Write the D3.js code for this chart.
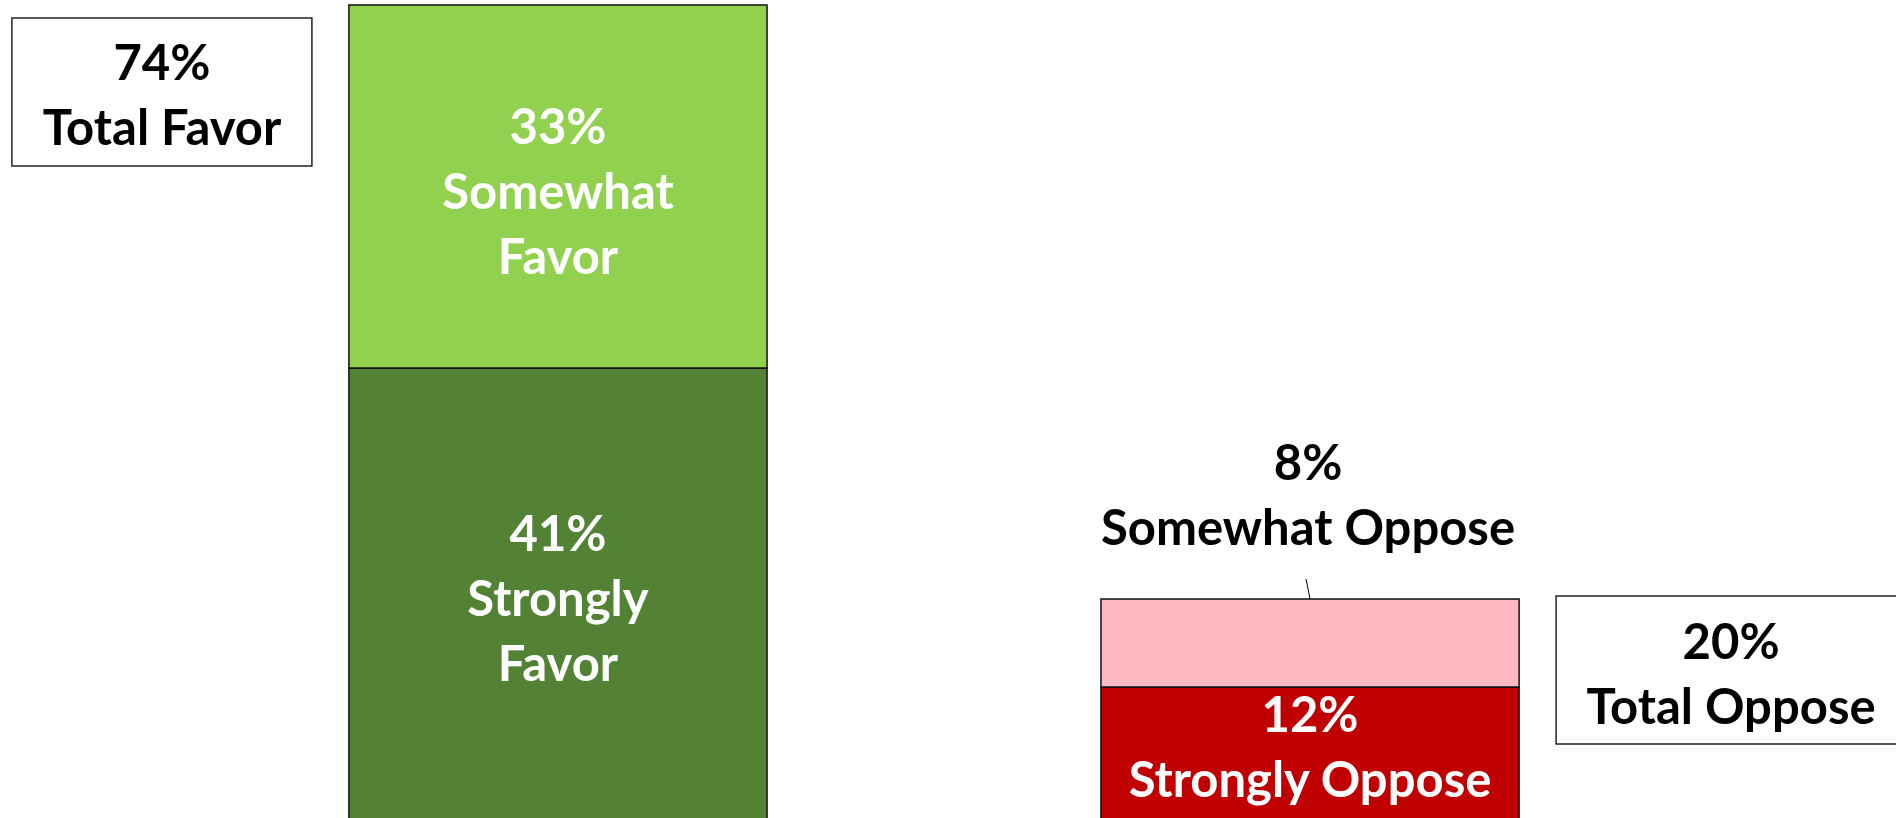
<!DOCTYPE html>
<head>
  <meta charset="utf-8">
  <script src="https://d3js.org/d3.v7.min.js"></script>
  <style>
    body { margin:0; background:#fff; overflow:hidden; }
    text { font-family: Lato, "Open Sans", sans-serif; font-weight: bold; }
  </style>
</head>
<body>
  <div class="chart"></div>
  <script>
    // data
    const categories = ['Favor', 'Oppose'];
    const strongly = [41, 12];
    const somewhat = [33, 8];
    const totals = [74, 20];
    const stronglyLines = [['Strongly', 'Favor'], ['Strongly Oppose']];
    const somewhatLines = [['Somewhat', 'Favor'], ['Somewhat Oppose']];
    const totalLines = [['Total Favor'], ['Total Oppose']];

    const width = 1896, height = 818;
    const fontSize = 49, lineH = 65;

    const svg = d3.select('.chart').append('svg')
      .attr('width', width)
      .attr('height', height);

    const x = d3.scaleBand()
      .domain(categories)
      .range([15, 1853])
      .paddingInner(0.444)
      .paddingOuter(0.444);

    const y = d3.scaleLinear()
      .domain([0, 74])
      .range([819, 5]);

    const rows = categories.map((c, i) => ({ cat: c, strongly: strongly[i], somewhat: somewhat[i] }));
    const series = d3.stack().keys(['strongly', 'somewhat'])(rows);
    const colors = {
      strongly: ['#548235', '#C00000'],
      somewhat: ['#92D050', '#FFB9C0']
    };

    svg.selectAll('g.layer')
      .data(series)
      .enter().append('g')
      .attr('class', 'layer')
      .selectAll('rect')
      .data(s => s.map((d, i) => ({ d, i, key: s.key })))
      .enter().append('rect')
      .attr('x', o => x(o.d.data.cat))
      .attr('width', x.bandwidth())
      .attr('y', o => y(o.d[1]))
      .attr('height', o => y(o.d[0]) - y(o.d[1]))
      .style('fill', o => colors[o.key][o.i])
      .style('stroke', '#111')
      .style('stroke-width', 1.5);

    function block(lines, cx, cy, color) {
      const n = lines.length;
      lines.forEach((t, k) => {
        svg.append('text')
          .attr('x', cx)
          .attr('y', cy + (k - (n - 1) / 2) * lineH)
          .attr('text-anchor', 'middle')
          .attr('dominant-baseline', 'central')
          .style('font-size', fontSize + 'px')
          .style('fill', color)
          .text(t);
      });
    }

    const cx = c => x(c) + x.bandwidth() / 2;

    // in-bar labels
    categories.forEach((c, i) => {
      const s0 = series[0][i];
      block([strongly[i] + '%'].concat(stronglyLines[i]), cx(c), (y(s0[0]) + y(s0[1])) / 2 + (i === 1 ? -8 : 3), '#fff');
    });
    // somewhat favor inside
    block([somewhat[0] + '%'].concat(somewhatLines[0]), cx(categories[0]), (y(series[1][0][0]) + y(series[1][0][1])) / 2 + 3, '#fff');

    // somewhat oppose: outside with leader line
    const topOpp = y(series[1][1][1]);
    block([somewhat[1] + '%'].concat(somewhatLines[1]), cx(categories[1]) - 2, topOpp - 106, '#000');
    svg.append('line')
      .attr('x1', cx(categories[1]) - 4).attr('y1', topOpp - 20)
      .attr('x2', cx(categories[1])).attr('y2', topOpp)
      .style('stroke', '#000').style('stroke-width', 1);

    // total boxes
    const boxH = 148, gap = 37;
    const boxes = [
      { w: 300, x: x(categories[0]) - gap - 300, y: y(totals[0]) + 13 },
      { w: 350, x: x(categories[1]) + x.bandwidth() + gap, y: y(totals[1]) - 3 }
    ];
    boxes.forEach((b, i) => {
      svg.append('rect')
        .attr('x', b.x).attr('y', b.y)
        .attr('width', b.w).attr('height', boxH)
        .style('fill', '#fff')
        .style('stroke', '#222')
        .style('stroke-width', 1.5);
      block([totals[i] + '%'].concat(totalLines[i]), b.x + b.w / 2, b.y + boxH / 2 + (i === 1 ? 2 : 1), '#000');
    });
  </script>
</body>
</html>
